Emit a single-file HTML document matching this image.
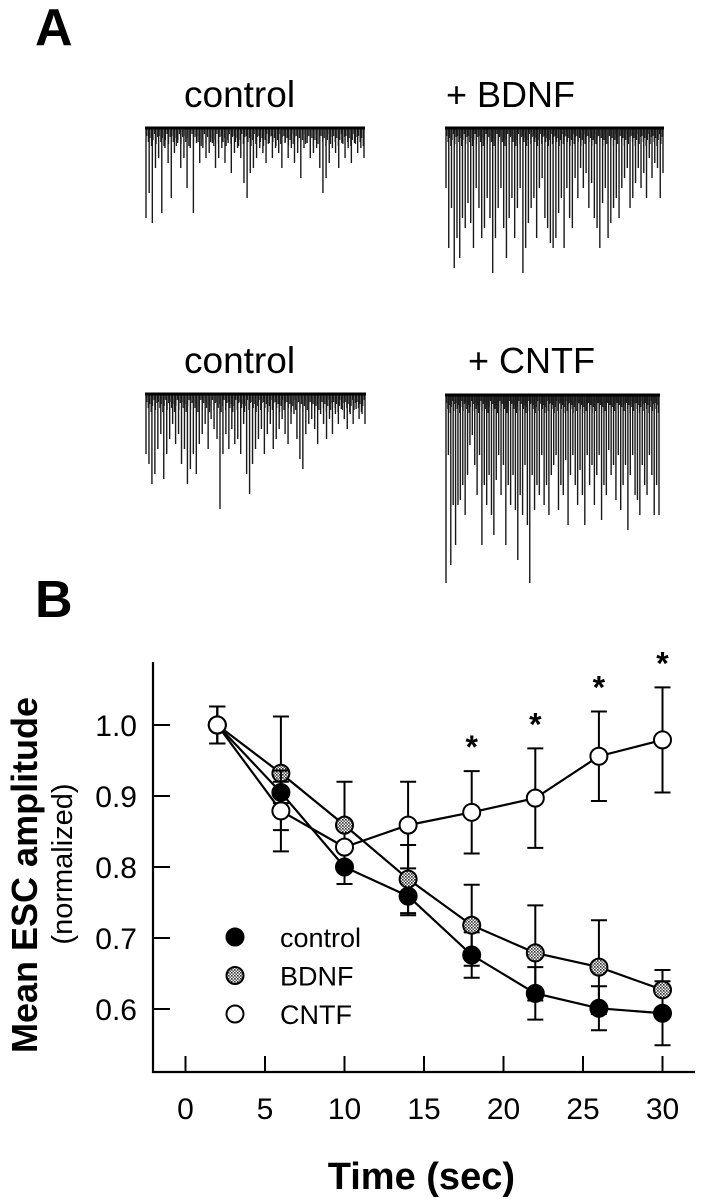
<!DOCTYPE html>
<html><head><meta charset="utf-8"><style>
html,body{margin:0;padding:0;background:#fff;}
svg{display:block;font-family:"Liberation Sans",Arial,sans-serif;}
</style></head><body>
<svg id="fig" width="705" height="1199" viewBox="0 0 705 1199" xmlns="http://www.w3.org/2000/svg">
<defs>
<pattern id="hatch" width="3" height="3" patternUnits="userSpaceOnUse">
<rect width="3" height="3" fill="#fff"/><rect width="1.6" height="1.6" fill="#333"/><rect x="1.5" y="1.5" width="1.5" height="1.5" fill="#555"/>
</pattern>
</defs>
<text x="35" y="45" font-size="52" font-weight="bold">A</text>
<text x="184" y="107" font-size="37">control</text>
<text x="446" y="107" font-size="36">+ BDNF</text>
<text x="184" y="373" font-size="37">control</text>
<text x="468" y="373" font-size="36">+ CNTF</text>
<g id="traces"></g>
<text x="35" y="617" font-size="52" font-weight="bold">B</text>
<g id="chart"></g>
</svg>
<script>
// ---- Trace data (spike depths, px) ----
const ctrl1Spikes=[90,65,95,40,30,85,20,35,70,25,15,40,30,60,20,85,15,35,20,30,25,15,40,30,20,35,15,45,25,20,30,55,70,45,40,30,20,25,35,15,30,20,25,40,15,30,20,35,25,50,20,15,30,25,20,40,65,50,35,20,25,40,15,30,20,35,15,25,20,30];
const bdnfSpikes=[60,120,80,140,110,130,90,100,75,95,120,60,80,110,100,70,90,145,110,80,60,100,130,90,70,110,80,60,145,120,95,80,70,110,60,50,90,100,115,120,110,85,70,120,60,90,100,50,70,40,60,45,80,55,90,100,120,75,60,110,95,80,70,90,60,50,40,80,70,55,40,60,45,70,30,50,35,40,70,45];
const ctrl2Spikes=[60,70,90,80,55,40,85,60,45,30,50,40,70,55,90,75,60,80,50,40,30,55,25,35,45,115,60,40,55,35,50,45,60,30,80,100,70,55,45,35,60,40,30,55,45,35,25,40,50,30,20,45,65,75,40,30,25,35,50,20,30,45,25,40,20,30,15,25,35,20,30,15,25,20,30];
const cntfSpikes=[188,60,170,110,150,110,105,90,120,80,50,40,70,100,60,150,90,110,80,120,140,85,60,100,70,150,90,110,80,115,165,100,120,70,130,188,80,115,90,100,60,110,90,120,80,70,60,115,90,100,65,130,80,60,90,110,75,100,130,60,90,70,110,80,60,125,90,100,55,80,70,105,60,115,90,70,135,80,60,100,105,120,70,90,100,60,80,120,90,120];
const texture=[8,14,10,18,12,6,16,9];

// ---- Chart data ----
const times=[2,6,10,14,18,22,26,30];
const controlVals=[1.0,0.905,0.80,0.759,0.676,0.622,0.601,0.594];
const controlErr=[0.026,0.015,0.024,0.027,0.032,0.037,0.031,0.045];
const bdnfVals=[1.0,0.932,0.859,0.783,0.718,0.679,0.659,0.627];
const bdnfErr=[0.026,0.08,0.061,0.048,0.057,0.067,0.066,0.028];
const cntfVals=[1.0,0.879,0.828,0.859,0.877,0.897,0.956,0.979];
const cntfErr=[0.026,0.057,0.0,0.061,0.058,0.07,0.063,0.074];
const sigTimes=[18,22,26,30];
const xTicks=[0,5,10,15,20,25,30];
const yTicks=[0.6,0.7,0.8,0.9,1.0];
const yTickLabels=["0.6","0.7","0.8","0.9","1.0"];
const legendNames=["control","BDNF","CNTF"];

const NS="http://www.w3.org/2000/svg";
function mk(tag,attrs,parent){const e=document.createElementNS(NS,tag);for(const k in attrs)e.setAttribute(k,attrs[k]);parent.appendChild(e);return e;}

// traces
const tg=document.getElementById('traces');
function drawTrace(arr,x0,x1,base,name){
  const g=mk('g',{},tg);
  
  
  const n=arr.length;
  for(let i=0;i<n*2;i++){
    const x=x0+(x1-x0)*(i+0.5)/(n*2);
    const d=texture[i%texture.length];
    const l=mk('line',{x1:x,y1:base,x2:x,y2:base+d,stroke:'#222','stroke-width':1.2},g);
    
    
  }
  arr.forEach((d,i)=>{
    const x=x0+(x1-x0)*i/(n-1);
    const l=mk('line',{x1:x,y1:base,x2:x,y2:base+d,stroke:'#1a1a1a','stroke-width':1.4},g);
    
    
  });
  const b=mk('line',{x1:x0-1,y1:base,x2:x1+1,y2:base,stroke:'#000','stroke-width':3},g);
  
  
}
drawTrace(ctrl1Spikes,146,364,128,'trace-control-1');
drawTrace(bdnfSpikes,446,663,128,'trace-bdnf');
drawTrace(ctrl2Spikes,146,365,394,'trace-control-2');
drawTrace(cntfSpikes,446,659,395,'trace-cntf');

// chart
const cg=document.getElementById('chart');
const X=t=>185.5+15.9*t;
const Y=v=>725+(1-v)*710;
const yAxis=mk('line',{x1:153,y1:662,x2:153,y2:1073,stroke:'#000','stroke-width':2.2},cg);


const xAxis=mk('line',{x1:152,y1:1072,x2:695,y2:1072,stroke:'#000','stroke-width':2.2},cg);


yTicks.forEach((v,i)=>{
  const t=mk('line',{x1:153,y1:Y(v),x2:170,y2:Y(v),stroke:'#000','stroke-width':2},cg);
  
  
  const lb=mk('text',{x:137,y:Y(v)+11,'font-size':30,'text-anchor':'end'},cg);
  lb.textContent=yTickLabels[i];
  
  
});
xTicks.forEach(t=>{
  const tk=mk('line',{x1:X(t),y1:1072,x2:X(t),y2:1056,stroke:'#000','stroke-width':2},cg);
  
  
  const lb=mk('text',{x:X(t),y:1119,'font-size':30,'text-anchor':'middle'},cg);
  lb.textContent=String(t);
  
  
});
const xt=mk('text',{x:515,y:1189,'font-size':38,'font-weight':'bold','text-anchor':'end'},cg);
xt.textContent='Time (sec)';


const yt=mk('text',{transform:'translate(37,1053) rotate(-90)','font-size':36,'font-weight':'bold'},cg);
yt.textContent='Mean ESC amplitude';


const yt2=mk('text',{transform:'translate(72,864) rotate(-90)','font-size':29,'text-anchor':'middle'},cg);
yt2.textContent='(normalized)';



const fills={control:'#000',BDNF:'url(#hatch)',CNTF:'#fff'};
function drawSeries(vals,errs,key){
  const g=mk('g',{},cg);
  
  
  vals.forEach((v,i)=>{
    const e=errs[i]; if(!e) return;
    const x=X(times[i]);
    const eb=mk('path',{d:`M${x},${Y(v+e)}V${Y(v-e)}M${x-8},${Y(v+e)}H${x+8}M${x-8},${Y(v-e)}H${x+8}`,stroke:'#000','stroke-width':2,fill:'none'},g);
    
    
  });
  const pl=mk('polyline',{points:vals.map((v,i)=>X(times[i])+','+Y(v)).join(' '),fill:'none',stroke:'#000','stroke-width':2.2},g);
  
  
  return g;
}
function drawMarkers(g,vals,key){
  vals.forEach((v,i)=>{
    const c=mk('circle',{cx:X(times[i]),cy:Y(v),r:8.5,fill:fills[key],stroke:'#000','stroke-width':2},g);
    
    
  });
}
const gc=drawSeries(controlVals,controlErr,'control');
const gb=drawSeries(bdnfVals,bdnfErr,'BDNF');
const gn=drawSeries(cntfVals,cntfErr,'CNTF');
drawMarkers(gc,controlVals,'control');
drawMarkers(gb,bdnfVals,'BDNF');
drawMarkers(gn,cntfVals,'CNTF');

sigTimes.forEach(t=>{
  const i=times.indexOf(t);
  const top=cntfVals[i]+cntfErr[i];
  const s=mk('text',{x:X(t),y:Y(top)-13,'font-size':32,'font-weight':'bold','text-anchor':'middle'},cg);
  s.textContent='*';
  
  
});

legendNames.forEach((nm,i)=>{
  const y=937+38.5*i;
  const c=mk('circle',{cx:235,cy:y,r:8.5,fill:fills[nm],stroke:'#000','stroke-width':2},cg);
  
  
  const t=mk('text',{x:280,y:y+10,'font-size':27},cg);
  t.textContent=nm;
  
  
});
</script>
</body></html>
